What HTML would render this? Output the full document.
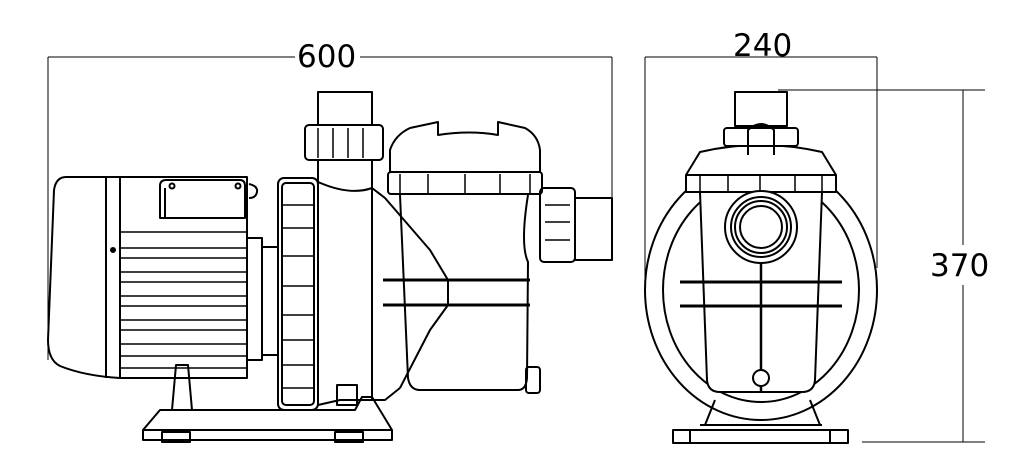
<!DOCTYPE html>
<html><head><style>
html,body{margin:0;padding:0;background:#fff;}
svg{display:block;}
text{font-family:"DejaVu Sans","Liberation Sans",sans-serif;font-size:31px;fill:#000;}
</style></head><body>
<svg width="1030" height="455" viewBox="0 0 1030 455" xmlns="http://www.w3.org/2000/svg">
<g fill="none" stroke="#000" stroke-width="1">
 <!-- dimension lines -->
 <line x1="48" y1="57" x2="295" y2="57"/><line x1="360" y1="57" x2="612" y2="57"/>
 <line x1="48" y1="57" x2="48" y2="360"/><line x1="612" y1="57" x2="612" y2="198"/>
 <line x1="645" y1="57" x2="877" y2="57"/>
 <line x1="645" y1="57" x2="645" y2="290"/><line x1="877" y1="57" x2="877" y2="268"/>
 <line x1="778" y1="90" x2="985" y2="90"/><line x1="862" y1="442" x2="985" y2="442"/>
 <line x1="963" y1="90" x2="963" y2="245"/><line x1="963" y1="285" x2="963" y2="442"/>
</g>
<text x="297" y="67">600</text>
<text x="733" y="56">240</text>
<text x="930" y="276">370</text>

<g fill="none" stroke="#000" stroke-width="2" stroke-linejoin="round">
 <!-- SIDE VIEW -->
 <!-- motor cap -->
 <path d="M120 177 H66 Q56 177 54 190 L48 340 Q48 360 60 366 Q85 376 120 378 Z"/>
 <line x1="106" y1="177" x2="106" y2="378"/>
 <circle cx="113" cy="250" r="2" fill="#000"/>
 <!-- motor body -->
 <rect x="120" y="177" width="127" height="201"/>
 <g stroke-width="1.5">
  <line x1="120" y1="248" x2="247" y2="248"/><line x1="120" y1="258" x2="247" y2="258"/>
  <line x1="120" y1="272" x2="247" y2="272"/><line x1="120" y1="282" x2="247" y2="282"/>
  <line x1="120" y1="296" x2="247" y2="296"/><line x1="120" y1="306" x2="247" y2="306"/>
  <line x1="120" y1="320" x2="247" y2="320"/><line x1="120" y1="330" x2="247" y2="330"/>
  <line x1="120" y1="344" x2="247" y2="344"/><line x1="120" y1="356" x2="247" y2="356"/>
  <line x1="120" y1="368" x2="247" y2="368"/>
  <line x1="120" y1="232" x2="247" y2="232"/>
 </g>
 <!-- terminal box -->
 <path d="M160 218 V186 Q160 180 166 180 H240 Q245 180 245 186 V218 Z"/>
 <line x1="165" y1="218" x2="165" y2="188"/>
 <circle cx="172" cy="186" r="2.5"/><circle cx="238" cy="186" r="2.5"/>
 <path d="M249 184 Q258 186 257 192 Q256 198 249 198"/>
 <!-- flange / coupling -->
 <rect x="247" y="238" width="15" height="122"/>
 <rect x="262" y="247" width="16" height="108"/>
 <!-- impeller ring -->
 <rect x="278" y="178" width="40" height="232" rx="6"/>
 <rect x="282" y="183" width="32" height="222" rx="4"/>
 <g stroke-width="1.5">
  <line x1="282" y1="205" x2="314" y2="205"/><line x1="282" y1="228" x2="314" y2="228"/>
  <line x1="282" y1="256" x2="314" y2="256"/><line x1="282" y1="286" x2="314" y2="286"/>
  <line x1="282" y1="315" x2="314" y2="315"/><line x1="282" y1="340" x2="314" y2="340"/>
  <line x1="282" y1="365" x2="314" y2="365"/><line x1="282" y1="388" x2="314" y2="388"/>
 </g>
 <!-- volute + discharge -->
 <path d="M318 182 V405 L340 400 H385 L400 388"/>
 <path d="M318 160 V182 Q350 196 372 188 V160"/>
 <line x1="372" y1="188" x2="372" y2="400"/>
 <path d="M372 188 L385 198 L430 250 L448 280 L448 305 L430 330 L400 388"/>
 <rect x="318" y="92" width="54" height="33"/>
 <rect x="305" y="125" width="78" height="35" rx="4"/>
 <g stroke-width="1.5"><line x1="318" y1="128" x2="318" y2="158"/><line x1="333" y1="128" x2="333" y2="158"/>
 <line x1="348" y1="128" x2="348" y2="158"/><line x1="363" y1="128" x2="363" y2="158"/></g>
 <rect x="337" y="385" width="20" height="20"/>
 <!-- foot + base -->
 <path d="M172 410 L176 365 H188 L192 410"/>
 <path d="M143 440 V430 L160 410 H355 L362 397 H372 L392 430 V440 Z"/>
 <line x1="143" y1="430" x2="392" y2="430"/>
 <rect x="162" y="432" width="28" height="10"/><rect x="335" y="432" width="28" height="10"/>
 <!-- strainer lid -->
 <path d="M390 172 V150 Q395 135 410 128 L438 122 V135 Q470 130 498 135 V122 L525 128 Q538 135 540 150 V172"/>
 <rect x="388" y="172" width="154" height="22" rx="3"/>
 <g stroke-width="1.5"><line x1="400" y1="174" x2="400" y2="193"/><line x1="428" y1="174" x2="428" y2="193"/>
 <line x1="465" y1="174" x2="465" y2="193"/><line x1="500" y1="174" x2="500" y2="193"/><line x1="530" y1="174" x2="530" y2="193"/></g>
 <!-- basket body -->
 <path d="M400 195 L408 378 Q410 390 420 390 H518 Q526 390 527 378 L528 262 Q520 245 528 195"/>
 <line x1="383" y1="280" x2="530" y2="280" stroke-width="3"/>
 <line x1="383" y1="305" x2="530" y2="305" stroke-width="3"/>
 <rect x="526" y="367" width="14" height="26" rx="3"/>
 <!-- outlet -->
 <rect x="540" y="188" width="35" height="74" rx="4"/>
 <g stroke-width="1.5"><line x1="545" y1="205" x2="570" y2="205"/><line x1="545" y1="222" x2="570" y2="222"/><line x1="545" y1="240" x2="570" y2="240"/></g>
 <rect x="575" y="198" width="37" height="62"/>

 <!-- FRONT VIEW -->
 <ellipse cx="761" cy="290" rx="116" ry="130"/>
 <ellipse cx="761" cy="290" rx="98" ry="112"/>
 <path d="M715 400 L705 425 H820 L810 400"/>
 <rect x="673" y="430" width="175" height="13"/>
 <line x1="690" y1="430" x2="690" y2="443"/><line x1="830" y1="430" x2="830" y2="443"/>
 <line x1="700" y1="425" x2="822" y2="425"/>
 <!-- body (white fill to hide ring) -->
 <path d="M700 192 L707 380 Q708 392 720 392 H802 Q814 392 815 380 L822 192 Z" fill="#fff"/>
 <path d="M686 192 V175 L700 152 Q760 138 822 152 L836 175 V192 Z" fill="#fff"/>
 <line x1="686" y1="175" x2="836" y2="175"/>
 <g stroke-width="1.5"><line x1="700" y1="176" x2="700" y2="192"/><line x1="728" y1="176" x2="728" y2="192"/>
 <line x1="760" y1="176" x2="760" y2="192"/><line x1="795" y1="176" x2="795" y2="192"/><line x1="822" y1="176" x2="822" y2="192"/></g>
 <rect x="724" y="128" width="74" height="18" rx="3" fill="#fff"/>
 <rect x="735" y="92" width="52" height="34" fill="#fff"/>
 <path d="M748 155 V130 Q761 118 774 130 V155"/>
 <circle cx="761" cy="227" r="36" fill="#fff"/>
 <circle cx="761" cy="227" r="30"/><circle cx="761" cy="227" r="26"/><circle cx="761" cy="227" r="21"/>
 <line x1="680" y1="282" x2="842" y2="282" stroke-width="3"/>
 <line x1="680" y1="306" x2="842" y2="306" stroke-width="3"/>
 <line x1="761" y1="263" x2="761" y2="392" stroke-width="2.5"/>
 <circle cx="761" cy="378" r="8" fill="#fff"/>
</g>
</svg>
</body></html>
